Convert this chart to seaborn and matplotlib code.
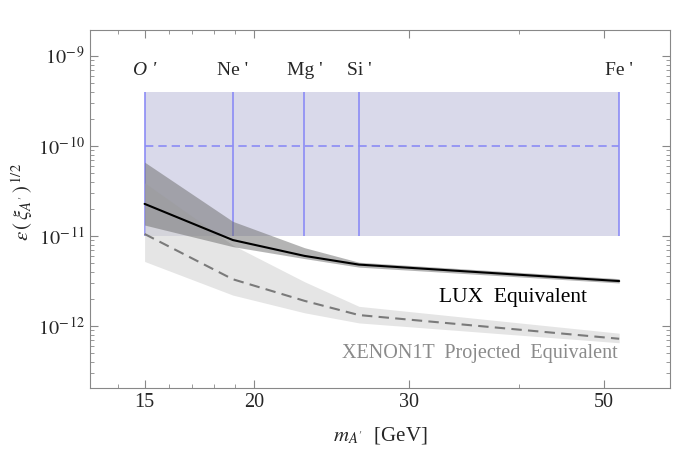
import matplotlib
matplotlib.use('Agg')
import matplotlib.pyplot as plt
import matplotlib.ticker as mticker
import numpy as np
import pandas as pd
import seaborn as sns

# element-dependent dark photon masses (GeV)
masses = [15, 18.9, 22.8, 26.3, 52]
element_labels = ["O '", "Ne '", "Mg '", "Si '", "Fe '"]

# LUX equivalent limit and its band
lux_line = [2.27e-11, 9.0e-12, 6.0e-12, 4.8e-12, 3.15e-12]
lux_upper = [6.6e-11, 1.45e-11, 7.4e-12, 5.1e-12, 3.35e-12]
lux_lower = [1.32e-11, 7.6e-12, 5.6e-12, 4.5e-12, 3.0e-12]

# XENON1T projected equivalent and its band
xenon_line = [1.05e-11, 3.3e-12, 1.9e-12, 1.32e-12, 7.2e-13]
xenon_upper = [3.9e-11, 7.9e-12, 3.1e-12, 1.65e-12, 8.3e-13]
xenon_lower = [5.2e-12, 2.2e-12, 1.4e-12, 1.08e-12, 6.5e-13]

# preferred region
region_low = 1e-11
region_high = 4e-10
region_mid = 1e-10

df = pd.DataFrame({'m': masses, 'lux': lux_line, 'xenon': xenon_line})

sns.set_style('ticks')
plt.rcParams['font.family'] = ['Liberation Serif', 'DejaVu Serif']
plt.rcParams['mathtext.fontset'] = 'stix'

fig = plt.figure(figsize=(6.76, 4.53), dpi=100)
ax = fig.add_axes([0.1331, 0.1442, 0.858, 0.7896])
ax.set_xscale('log')
ax.set_yscale('log')

blue_line = '#8c8cf5'
ax.fill_between([masses[0], masses[-1]], region_low, region_high, color='#d9d9ea', lw=0, zorder=1)
ax.vlines(masses, region_low, region_high, color=blue_line, lw=1.2, zorder=2)
ax.hlines(region_mid, masses[0], masses[-1], color=blue_line, lw=1.2, ls=(0, (5, 3)), zorder=2)

ax.fill_between(masses, xenon_lower, xenon_upper, color='#d0d0d0', alpha=0.55, lw=0, zorder=3)
ax.fill_between(masses, lux_lower, lux_upper, color='#6a6a6a', alpha=0.5, lw=0, zorder=4)

sns.lineplot(data=df, x='m', y='xenon', ax=ax, color='#7a7a7a', lw=1.5, zorder=5)
ax.lines[-1].set_dashes([5, 3])
sns.lineplot(data=df, x='m', y='lux', ax=ax, color='black', lw=1.5, zorder=6)

for m, lab in zip(masses, element_labels):
    ax.text(m, 6.8e-10, lab, ha='center', va='center', fontsize=14,
            style='italic' if lab.startswith('O') else 'normal')

ax.text(47.8, 2.05e-12, 'LUX  Equivalent', ha='right', va='center', fontsize=15.5, color='black')
ax.text(51.8, 5.0e-13, 'XENON1T  Projected  Equivalent', ha='right', va='center',
        fontsize=14.5, color='#8a8a8a')

ax.set_xlim(13.0, 59.4)
ax.set_ylim(2.06e-13, 1.94e-9)

ax.xaxis.set_major_locator(mticker.FixedLocator([15, 20, 30, 50]))
ax.xaxis.set_major_formatter(mticker.FixedFormatter(['15', '20', '30', '50']))
ax.xaxis.set_minor_locator(mticker.FixedLocator([14, 16, 17, 18, 19, 40]))
ax.xaxis.set_minor_formatter(mticker.NullFormatter())
ax.yaxis.set_major_locator(mticker.FixedLocator([1e-12, 1e-11, 1e-10, 1e-9]))
ax.yaxis.set_major_formatter(mticker.FixedFormatter(
    [r'$10^{-\,12}$', r'$10^{-\,11}$', r'$10^{-\,10}$', r'$10^{-\,9}$']))
ax.yaxis.set_minor_locator(mticker.LogLocator(base=10, subs=np.arange(2, 10), numticks=10))
ax.yaxis.set_minor_formatter(mticker.NullFormatter())

ax.tick_params(which='both', direction='in', top=True, right=True, color='#888888', labelsize=14.5)
ax.tick_params(which='major', length=6, width=0.8)
ax.tick_params(which='minor', length=3, width=0.6)
for s in ax.spines.values():
    s.set_color('#888888')
    s.set_linewidth(0.8)

ax.set_xlabel(r"$m_{A\,'}$  [GeV]", fontsize=15, labelpad=10)
ax.set_ylabel(r"$\epsilon\,(\,\xi_{A\,'}\,)^{\,1/2}$", fontsize=15, labelpad=2)
ax.yaxis.set_label_coords(-0.095, 0.52)

fig.savefig('out.png', dpi=100)
